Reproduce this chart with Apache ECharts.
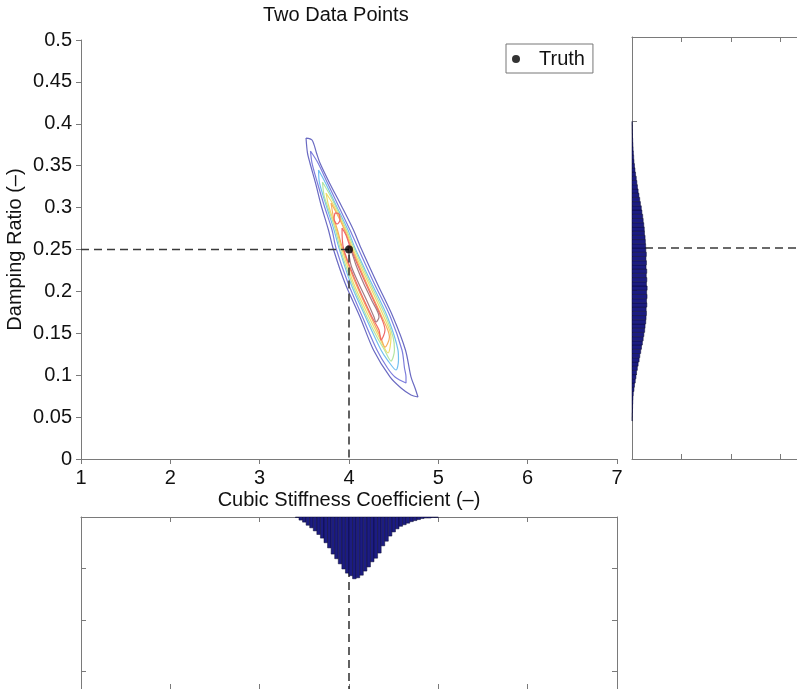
<!DOCTYPE html>
<html>
<head>
<meta charset="utf-8">
<title>Two Data Points</title>
<script src="https://cdn.jsdelivr.net/npm/echarts@6/dist/echarts.min.js"></script>
<style>
  html, body { margin: 0; padding: 0; background: #fff; }
  #chart { width: 797px; height: 689px; }
</style>
</head>
<body>
<div id="chart"></div>
<script>
// values
const truth = [4, 0.25]

// contour rings of the joint density, outer to inner ([stiffness, damping])
const contourOuter = [[3.519,0.3830],[3.535,0.3652],[3.563,0.3532],[3.625,0.3294],[3.687,0.3031],[3.770,0.2733],[3.821,0.2518],[3.955,0.2100],[4.123,0.1695],[4.274,0.1301],[4.459,0.0979],[4.582,0.0847],[4.694,0.0764],[4.772,0.0740],[4.739,0.0847],[4.694,0.0979],[4.632,0.1301],[4.493,0.1695],[4.313,0.2100],[4.134,0.2518],[4.050,0.2733],[3.910,0.3031],[3.782,0.3294],[3.675,0.3532],[3.636,0.3652],[3.586,0.3807],[3.519,0.3830]]
const contour2 = [[3.569,0.3675],[3.586,0.3532],[3.647,0.3294],[3.720,0.3031],[3.810,0.2733],[3.854,0.2518],[3.989,0.2100],[4.151,0.1695],[4.313,0.1301],[4.431,0.1086],[4.515,0.0979],[4.638,0.0907],[4.638,0.0979],[4.621,0.1086],[4.593,0.1301],[4.464,0.1695],[4.280,0.2100],[4.101,0.2518],[4.011,0.2733],[3.877,0.3031],[3.759,0.3294],[3.653,0.3532],[3.569,0.3675]]
const contour3 = [[3.659,0.3449],[3.670,0.3294],[3.743,0.3031],[3.832,0.2733],[3.888,0.2518],[4.017,0.2100],[4.185,0.1695],[4.358,0.1301],[4.431,0.1181],[4.526,0.1062],[4.554,0.1181],[4.548,0.1301],[4.431,0.1695],[4.252,0.2100],[4.067,0.2518],[3.989,0.2733],[3.854,0.3031],[3.737,0.3294],[3.659,0.3449]]
const contour4 = [[3.703,0.3305],[3.720,0.3150],[3.754,0.3031],[3.849,0.2733],[3.899,0.2518],[4.034,0.2100],[4.201,0.1695],[4.313,0.1456],[4.397,0.1301],[4.470,0.1169],[4.509,0.1301],[4.493,0.1456],[4.414,0.1695],[4.235,0.2100],[4.056,0.2518],[3.972,0.2733],[3.843,0.3031],[3.787,0.3150],[3.703,0.3305]]
const contour5 = [[3.743,0.3174],[3.770,0.3031],[3.860,0.2733],[3.916,0.2518],[4.050,0.2100],[4.224,0.1695],[4.336,0.1456],[4.437,0.1265],[4.470,0.1456],[4.392,0.1695],[4.218,0.2100],[4.039,0.2518],[3.961,0.2733],[3.826,0.3031],[3.743,0.3174]]
const contour6 = [[3.799,0.3055],[3.826,0.2888],[3.871,0.2733],[3.927,0.2518],[4.073,0.2100],[4.246,0.1695],[4.353,0.1456],[4.403,0.1336],[4.453,0.1456],[4.369,0.1695],[4.196,0.2100],[4.028,0.2518],[3.950,0.2733],[3.883,0.2888],[3.799,0.3055]]
const contour7 = [[3.922,0.2757],[3.938,0.2518],[4.084,0.2100],[4.257,0.1695],[4.336,0.1539],[4.358,0.1420],[4.403,0.1539],[4.358,0.1695],[4.185,0.2100],[4.017,0.2518],[3.966,0.2673],[3.922,0.2757]]
const contour7b = [[3.843,0.2936],[3.832,0.2864],[3.866,0.2804],[3.899,0.2852],[3.888,0.2924],[3.843,0.2936]]
const contour8 = [[3.989,0.2554],[4.022,0.2315],[4.106,0.2100],[4.196,0.1897],[4.280,0.1695],[4.302,0.1635],[4.336,0.1695],[4.252,0.1897],[4.162,0.2100],[4.078,0.2315],[4.022,0.2494],[3.989,0.2554]]

// marginal of damping ratio (right panel), bins from 0.045 in steps of 0.005
const dampBinStart = 0.045
const dampBinWidth = 0.005
const dampCounts = [0.4,0.6,1.0,1.2,1.6,2.0,2.6,4,5,6.6,8,9.2,10.8,12.4,14.4,15.8,17.6,19.2,21,22.6,24,25.6,26.4,27.8,28.4,29.2,28.6,30,29.4,30.4,29.6,30.6,29.2,30,28.8,29.8,28.4,29.2,28.2,29,28,27.6,27,26.4,25.2,24.8,23.8,22.6,21.6,20,18.8,17,15.6,14,12.4,11,9.8,8.6,7.2,6,5,4,3.4,2.8,2.2,1.8,1.4,1.0,0.8,0.6,0.4]

// marginal of cubic stiffness (bottom panel), bins from 3.40 in steps of 0.04
const stiffBinStart = 3.40
const stiffBinWidth = 0.04
const stiffCounts = [1,6,10,16,21,27,34,41,50,60,72,81,91,101,109,114,120,118,113,105,97,87,80,70,56,47,37,29,23,18,15,12,9,7,5,3,2,2,1,1]

const contours = [contourOuter, contour2, contour3, contour4, contour5, contour6, contour7, contour7b, contour8]
const contourColors = ['#6a6ac2', '#7d7ddc', '#72bff0', '#b4e6a4', '#f0dc6a', '#f6ae5e', '#ee6868', '#ee6868', '#a67c82']

const font = 'Liberation Sans, Arial, Helvetica, sans-serif'
const frameColor = '#7a7a7a'
const dashStyle = { color: '#3a3a3a', width: 1.6, type: [8, 5] }

const chart = echarts.init(document.getElementById('chart'))

const histStyle = { fill: '#1c1c82', stroke: '#0a0a30', lineWidth: 0.5 }

const frameAxis = (extra) => Object.assign({
    type: 'value',
    axisLine: { show: true, onZero: false, lineStyle: { color: frameColor, width: 1 } },
    axisTick: { show: true, inside: true, length: 5, lineStyle: { color: frameColor } },
    axisLabel: { show: false },
    splitLine: { show: false }
}, extra)

const option = {
    animation: false,
    backgroundColor: '#fff',
    textStyle: { fontFamily: font },
    title: {
        text: 'Two Data Points',
        left: 263,
        top: 5,
        padding: 0,
        textStyle: { fontSize: 20, fontWeight: 'normal', color: '#111', fontFamily: font }
    },
    legend: {
        data: ['Truth'],
        left: 506,
        top: 44,
        padding: [5, 8, 4, 6],
        itemWidth: 36,
        itemHeight: 8,
        icon: 'circle',
        borderColor: '#777',
        borderWidth: 1,
        backgroundColor: '#fff',
        textStyle: { fontSize: 20, color: '#111', fontFamily: font }
    },
    grid: [
        { left: 81, top: 40, width: 536, height: 419, outerBoundsMode: 'none', containLabel: false },
        { left: 632, top: 37, width: 198, height: 422, outerBoundsMode: 'none', containLabel: false },
        { left: 81, top: 517, width: 536, height: 172, outerBoundsMode: 'none', containLabel: false }
    ],
    xAxis: [
        {
            type: 'value', gridIndex: 0, min: 1, max: 7, interval: 1,
            name: 'Cubic Stiffness Coefficient (–)', nameLocation: 'middle', nameGap: 31,
            nameMoveOverlap: false,
            nameTextStyle: { fontSize: 20, color: '#111', fontFamily: font },
            axisLine: { show: true, onZero: false, lineStyle: { color: frameColor, width: 1 } },
            axisTick: { show: true, length: 5, lineStyle: { color: frameColor } },
            axisLabel: { fontSize: 20, color: '#111', margin: 9, fontFamily: font },
            splitLine: { show: false }
        },
        frameAxis({ gridIndex: 1, min: 0, max: 400, interval: 100, position: 'bottom' }),
        frameAxis({ gridIndex: 1, min: 0, max: 400, interval: 100, position: 'top' }),
        frameAxis({ gridIndex: 2, min: 1, max: 7, interval: 1, position: 'top' }),
        frameAxis({ gridIndex: 2, min: 1, max: 7, interval: 1, position: 'bottom' })
    ],
    yAxis: [
        {
            type: 'value', gridIndex: 0, min: 0, max: 0.5, interval: 0.05,
            name: 'Damping Ratio (–)', nameLocation: 'middle', nameGap: 56,
            nameMoveOverlap: false,
            nameTextStyle: { fontSize: 20, color: '#111', fontFamily: font },
            axisLine: { show: true, onZero: false, lineStyle: { color: frameColor, width: 1 } },
            axisTick: { show: true, length: 5, lineStyle: { color: frameColor } },
            axisLabel: { fontSize: 20, color: '#111', margin: 9, fontFamily: font },
            splitLine: { show: false }
        },
        frameAxis({ gridIndex: 1, min: 0, max: 0.5, interval: 0.1, position: 'left' }),
        frameAxis({ gridIndex: 2, min: 0, max: 334, interval: 100, inverse: true, position: 'left' }),
        frameAxis({ gridIndex: 2, min: 0, max: 334, interval: 100, inverse: true, position: 'right' })
    ],
    series: []
}

contours.forEach((ring, i) => {
    option.series.push({
        type: 'line', xAxisIndex: 0, yAxisIndex: 0, data: ring,
        symbol: 'none', smooth: 0.3, silent: true,
        lineStyle: { color: contourColors[i], width: 1.2 }, z: 2
    })
})

// dashed guide lines through the true values
option.series.push(
    { type: 'line', xAxisIndex: 0, yAxisIndex: 0, data: [[1, truth[1]], truth, [truth[0], 0]],
      symbol: 'none', silent: true, lineStyle: dashStyle, z: 3 },
    { type: 'line', xAxisIndex: 1, yAxisIndex: 1, data: [[0, truth[1]], [400, truth[1]]],
      symbol: 'none', silent: true, lineStyle: dashStyle, z: 1 },
    { type: 'line', xAxisIndex: 3, yAxisIndex: 2, data: [[truth[0], 0], [truth[0], 334]],
      symbol: 'none', silent: true, lineStyle: dashStyle, z: 1 },
    { name: 'Truth', type: 'scatter', xAxisIndex: 0, yAxisIndex: 0, data: [truth],
      symbol: 'circle', symbolSize: 8, itemStyle: { color: '#000' }, z: 5 }
)

// right marginal: horizontal bars from the left edge
option.series.push({
    type: 'custom', xAxisIndex: 1, yAxisIndex: 1, z: 2, silent: true,
    data: dampCounts.map((c, i) => [c, dampBinStart + i * dampBinWidth, dampBinStart + (i + 1) * dampBinWidth]),
    encode: { x: 0, y: [1, 2] },
    renderItem: (params, api) => {
        const p0 = api.coord([0, api.value(1)])
        const p1 = api.coord([api.value(0), api.value(2)])
        return { type: 'rect', shape: { x: p0[0], y: p1[1], width: p1[0] - p0[0], height: p0[1] - p1[1] }, style: histStyle }
    }
})

// bottom marginal: bars hanging from the top edge
option.series.push({
    type: 'custom', xAxisIndex: 3, yAxisIndex: 2, z: 2, silent: true,
    data: stiffCounts.map((c, i) => [stiffBinStart + i * stiffBinWidth, stiffBinStart + (i + 1) * stiffBinWidth, c]),
    encode: { x: [0, 1], y: 2 },
    renderItem: (params, api) => {
        const p0 = api.coord([api.value(0), 0])
        const p1 = api.coord([api.value(1), api.value(2)])
        return { type: 'rect', shape: { x: p0[0], y: p0[1], width: p1[0] - p0[0], height: p1[1] - p0[1] }, style: histStyle }
    }
})

chart.setOption(option)
</script>
</body>
</html>
